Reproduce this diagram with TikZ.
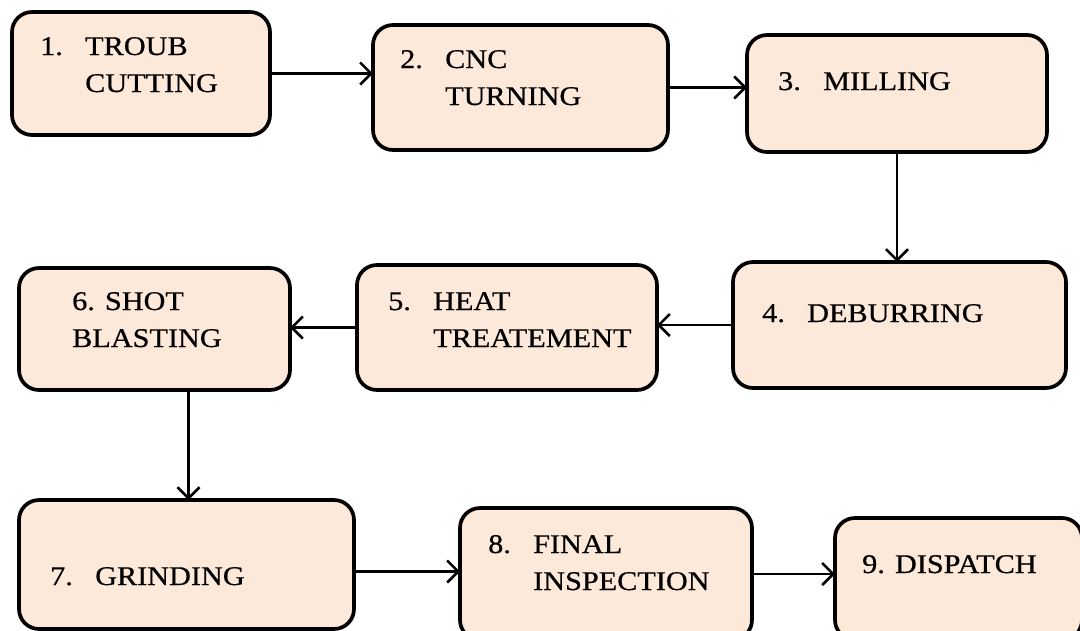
\documentclass[tikz,border=0pt]{standalone}
\usepackage{fontspec}
\setmainfont{Liberation Serif}[FakeStretch=1.12,FakeBold=0.6]
\usepackage{xcolor}
\usetikzlibrary{arrows.meta,calc}
\definecolor{peach}{HTML}{FDE9D9}
\newcommand{\stepno}[1]{\makebox[45pt][l]{#1}}
\newcommand{\steplines}[1]{\begin{tabular}[t]{@{}l@{}}#1\end{tabular}}
\tikzset{
stepbox/.style={draw,line width=3.7pt,rounded corners=20pt,fill=peach,anchor=north west,inner sep=0pt,outer sep=0pt},
steptext/.style={anchor=base west,inner sep=0pt,font=\fontsize{27}{37}\selectfont},
flow/.style={-{Straight Barb[length=11pt,width=22pt,line width=2.5pt]},line width=2.5pt}
}
\begin{document}
\begin{tikzpicture}[x=1pt,y=-1pt]
\clip (0,0) rectangle (1080,630);
% boxes
\node[stepbox,minimum width=258pt,minimum height=123pt](b1) at (12,12) {};
\node[stepbox,minimum width=295pt,minimum height=125pt](b2) at (373,25) {};
\node[stepbox,minimum width=300pt,minimum height=117pt](b3) at (747,35) {};
\node[stepbox,minimum width=333pt,minimum height=126pt](b4) at (733,262) {};
\node[stepbox,minimum width=300pt,minimum height=125pt](b5) at (357,265) {};
\node[stepbox,minimum width=271pt,minimum height=122pt](b6) at (19,268) {};
\node[stepbox,minimum width=335pt,minimum height=129pt](b7) at (19,500) {};
\node[stepbox,minimum width=292pt,minimum height=132pt](b8) at (460,508) {};
\node[stepbox,minimum width=247pt,minimum height=122pt](b9) at (835,518) {};
% labels
\node[steptext](t1) at (40,55) {\steplines{\stepno{1.}TROUB\\\stepno{}CUTTING}};
\node[steptext](t2) at (400,68) {\steplines{\stepno{2.}CNC\\\stepno{}TURNING}};
\node[steptext](t3) at (778,90) {\stepno{3.}MILLING};
\node[steptext](t4) at (762,322) {\stepno{4.}DEBURRING};
\node[steptext](t5) at (388,310) {\steplines{\stepno{5.}HEAT\\\stepno{}TREATEMENT}};
\node[steptext](t6) at (72,310) {\steplines{6. SHOT\\BLASTING}};
\node[steptext](t7) at (50,585) {\stepno{7.}GRINDING};
\node[steptext](t8) at (488,553) {\steplines{\stepno{8.}FINAL\\\stepno{}INSPECTION}};
\node[steptext](t9) at (862,573) {9. DISPATCH};
% arrows
\draw[flow](b1.east)--(b1.east -| b2.west);
\draw[flow](b2.east)--(b2.east -| b3.west);
\draw[flow](b3.south)--(b3.south |- b4.north);
\draw[flow](b4.west)--(b4.west -| b5.east);
\draw[flow](b5.west)--(b5.west -| b6.east);
\draw[flow]([xshift=34pt]b6.south)--([xshift=34pt]b6.south |- b7.north);
\draw[flow]([yshift=-7pt]b7.east)--([yshift=-7pt]b7.east -| b8.west);
\draw[flow](b8.east)--(b8.east -| b9.west);
\end{tikzpicture}
\end{document}
